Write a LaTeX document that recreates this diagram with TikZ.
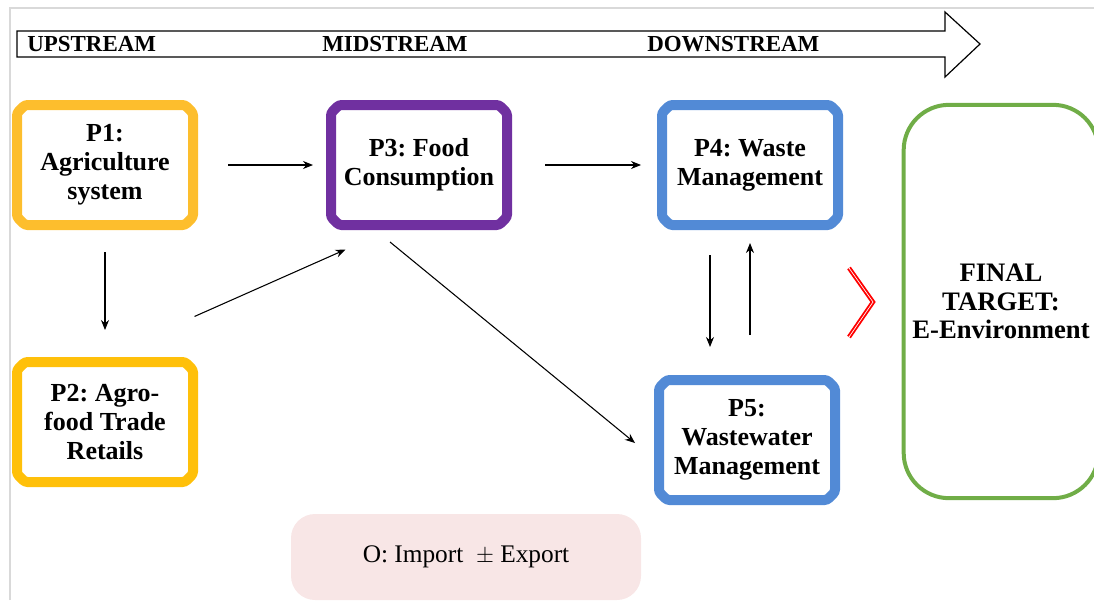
\documentclass[tikz,border=0pt]{standalone}
\usepackage{fontspec}
\setmainfont{Liberation Serif}
\frenchspacing
\usetikzlibrary{arrows.meta,positioning,calc,shapes.misc}
\definecolor{agriyellow}{RGB}{253,190,45}
\definecolor{tradeyellow}{RGB}{255,192,10}
\definecolor{foodpurple}{RGB}{112,48,160}
\definecolor{wasteblue}{RGB}{82,138,214}
\definecolor{targetgreen}{RGB}{112,173,71}
\definecolor{tradepink}{RGB}{248,230,230}
\tikzset{
    >={Stealth[length=7.5pt,width=6pt]},
    every picture/.style={line width=0.5pt},
    stage/.style={chamfered rectangle,chamfered rectangle sep=3pt,rounded corners=2pt,draw,
        line width=7.5pt,minimum width=132pt,minimum height=90pt,inner sep=0pt,
        align=center,font=\bfseries\fontsize{19.5}{21.75}\selectfont},
    flow/.style={->,line width=0.8pt},
    streamlabel/.style={anchor=west,inner sep=0pt,font=\bfseries\fontsize{17.2}{18}\selectfont}
}

\begin{document}
\begin{tikzpicture}[x=0.75pt,y=-0.75pt]
    \useasboundingbox (0,0) rectangle (1094,600);
    \draw[black!15,line width=1pt] (10,600) -- (10,8) -- (1094,8);

    % Stream arrow
    \draw[line width=0.9pt] (17,31) -- (945,31) -- (945,12) -- (980,44)
        -- (945,77) -- (945,57) -- (17,57) -- cycle;
    \node[streamlabel] (up) at (27,44) {UPSTREAM};
    \node[streamlabel] (mid) at (322,44) {MIDSTREAM};
    \node[streamlabel] (down) at (647,44) {DOWNSTREAM};

    % Stages
    \node[stage,draw=agriyellow] (P1) at (105,165) {P1:\\Agriculture\\system};
    \node[stage,draw=tradeyellow] (P2) at (105,422) {P2: Agro-\\food Trade\\Retails};
    \node[stage,draw=foodpurple] (P3) at (419,165) {P3: Food\\Consumption};
    \node[stage,draw=wasteblue] (P4) at (750,165) {P4: Waste\\Management};
    \node[stage,draw=wasteblue] (P5) at (747,440) {P5:\\Wastewater\\Management};

    % Target
    \node[draw=targetgreen,line width=3pt,rounded corners=34pt,minimum width=146pt,
        minimum height=295pt,align=center,
        font=\bfseries\fontsize{20}{21.5}\selectfont] (target) at (1001,301.5)
        {FINAL\\TARGET:\\E-Environment};
    \draw[red,double=white,line width=1.4pt,double distance=0.5pt,miter limit=20]
        (849,268) -- (873,302) -- (849,337);

    % Import / export
    \node[fill=tradepink,rounded corners=18pt,minimum width=262.5pt,minimum height=64.5pt,
        font=\fontsize{19}{20}\selectfont] (trade) at (466,557) {O: Import~~$\pm$ Export};

    % Flows
    \draw[flow] ($(P1.east)+(30,0)$) -- ($(P3.west)+(-13,0)$);
    \draw[flow] ($(P3.east)+(33,0)$) -- ($(P4.west)+(-16,0)$);
    \draw[flow] ($(P1.south)+(0,22)$) -- ($(P2.north)+(0,-27)$);
    \draw[flow] ($(P2.north east)+(2,-46)$) -- ($(P3.south west)+(14,25)$);
    \draw[flow] ($(P3.south)+(-29,12)$) -- ($(P5.west)+(-19,3)$);
    \draw[flow] ($(P4.south)+(-40,25)$) -- ($(P5.north)+(-37,-28)$);
    \draw[flow] ($(P5.north)+(3,-40)$) -- ($(P4.south)+(0,13)$);
\end{tikzpicture}
\end{document}
